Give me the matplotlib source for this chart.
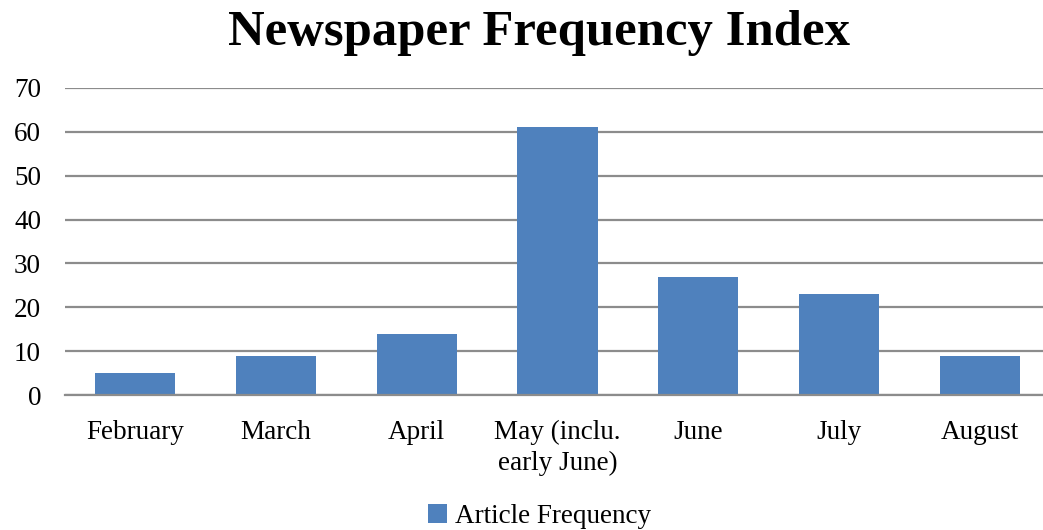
import matplotlib
matplotlib.use("Agg")
import matplotlib.pyplot as plt
from matplotlib.patches import Patch

months = ["February", "March", "April", "May (inclu.\nearly June)", "June", "July", "August"]
article_frequency = [5, 9, 14, 61, 27, 23, 9]
y_ticks = [0, 10, 20, 30, 40, 50, 60, 70]

bar_color = "#4F81BD"
grid_color = "#8C8C8C"

plt.rcParams["font.family"] = ["Liberation Serif", "DejaVu Serif"]

fig = plt.figure(figsize=(10.43, 5.30), dpi=100)
# plot area runs a little past the right edge of the picture, as in the original
ax = fig.add_axes([0.062, 0.2547, 0.945, 0.5793])

x = list(range(len(months)))
ax.bar(x, article_frequency, width=0.57, color=bar_color, zorder=2)

ax.set_xlim(-0.5, len(months) - 0.5)
ax.set_ylim(0, 70)
ax.set_yticks(y_ticks)
ax.set_xticks(x)
ax.set_xticklabels(months, fontsize=19.5, linespacing=1.3)
ax.tick_params(axis="y", labelsize=19.5, length=0, pad=17)
ax.tick_params(axis="x", length=0, pad=18)

ax.grid(True, axis="y", color=grid_color, linewidth=1.6, zorder=0)
for side in ["top", "right", "left"]:
    ax.spines[side].set_visible(False)
ax.spines["bottom"].set_color(grid_color)
ax.spines["bottom"].set_linewidth(1.6)

fig.text(0.517, 0.938, "Newspaper Frequency Index", ha="center", va="center",
         fontsize=36.5, fontweight="bold")

handle = Patch(facecolor=bar_color, label="Article Frequency")
fig.legend(handles=[handle], loc="center", bbox_to_anchor=(0.517, 0.025),
           frameon=False, fontsize=19.5, handlelength=0.7, handleheight=0.7,
           handletextpad=0.3)

fig.savefig("out.png", dpi=100)
